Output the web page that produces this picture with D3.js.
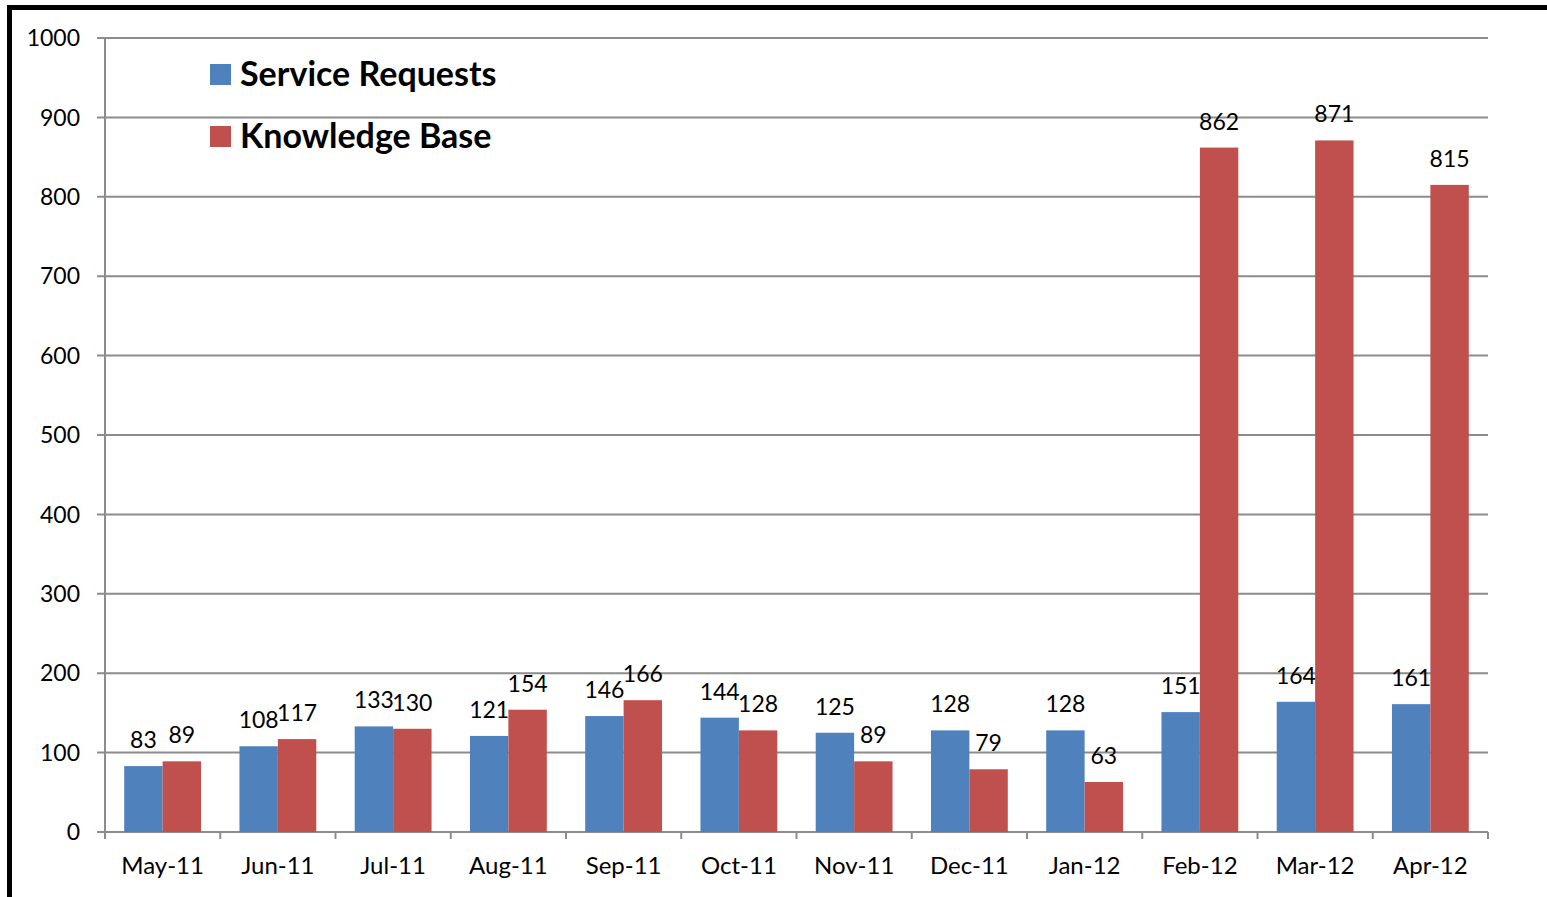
<!DOCTYPE html>
<html><head><meta charset="utf-8">
<script src="https://cdn.jsdelivr.net/npm/d3@7"></script>
<style>body{margin:0;background:#fff}svg{display:block}</style>
</head><body>
<svg id="c" width="1547" height="897"></svg>
<script>
const months = ["May-11","Jun-11","Jul-11","Aug-11","Sep-11","Oct-11","Nov-11","Dec-11","Jan-12","Feb-12","Mar-12","Apr-12"];
const serviceRequests = [83,108,133,121,146,144,125,128,128,151,164,161];
const knowledgeBase = [89,117,130,154,166,128,89,79,63,862,871,815];
const seriesNames = ["Service Requests","Knowledge Base"];
const seriesColors = ["#4F81BD","#C0504D"];
const yTicks = [0,100,200,300,400,500,600,700,800,900,1000];

(function(){
const svg = d3.select("#c");
const font = "Lato, 'Open Sans', sans-serif";
const pLeft = 105, pRight = 1488, pTop = 38, pBottom = 832;

// frame
svg.append("line").attr("x1",10).attr("x2",1547).attr("y1",7.5).attr("y2",7.5).attr("stroke","#000").attr("stroke-width",5);
svg.append("line").attr("x1",9.5).attr("x2",9.5).attr("y1",5).attr("y2",897).attr("stroke","#000").attr("stroke-width",5);

const x = d3.scaleBand().domain(months).range([pLeft,pRight]).paddingInner(0).paddingOuter(0);
const inner = d3.scaleBand().domain(seriesNames).range([0,x.bandwidth()]).paddingOuter(0.5).paddingInner(0);
const y = d3.scaleLinear().domain([0,1000]).range([pBottom,pTop]);

// gridlines
svg.append("g").selectAll("line").data(yTicks).join("line")
  .attr("x1",97).attr("x2",pRight).attr("y1",d=>y(d)).attr("y2",d=>y(d))
  .attr("stroke","#8c8c8c").attr("stroke-width",2);
// y axis line
svg.append("line").attr("x1",pLeft).attr("x2",pLeft).attr("y1",pTop).attr("y2",pBottom+6).attr("stroke","#8c8c8c").attr("stroke-width",2);
// x ticks
const xt = months.map(m=>x(m)).concat([pRight]);
svg.append("g").selectAll("line").data(xt).join("line")
  .attr("x1",d=>d).attr("x2",d=>d).attr("y1",pBottom).attr("y2",pBottom+7).attr("stroke","#8c8c8c").attr("stroke-width",2);

// y labels
svg.append("g").selectAll("text").data(yTicks).join("text")
  .attr("x",80).attr("y",d=>y(d)).attr("dy","0.36em").attr("text-anchor","end")
  .attr("font-family",font).attr("font-size",23).attr("fill","#000").text(d=>d);
// x labels
svg.append("g").selectAll("text").data(months).join("text")
  .attr("x",d=>x(d)+x.bandwidth()/2).attr("y",874).attr("text-anchor","middle")
  .attr("font-family",font).attr("font-size",24).attr("fill","#000").text(d=>d);

const data = [serviceRequests, knowledgeBase];
data.forEach((vals,si)=>{
  const g = svg.append("g");
  g.selectAll("rect").data(vals).join("rect")
    .attr("x",(d,i)=>x(months[i])+inner(seriesNames[si]))
    .attr("width",inner.bandwidth())
    .attr("y",d=>y(d)).attr("height",d=>pBottom-y(d))
    .attr("fill",seriesColors[si]);
  g.selectAll("text").data(vals).join("text")
    .attr("x",(d,i)=>x(months[i])+inner(seriesNames[si])+inner.bandwidth()/2)
    .attr("y",d=>y(d)-18).attr("text-anchor","middle")
    .attr("font-family",font).attr("font-size",23).attr("fill","#000").text(d=>d);
});

// legend
seriesNames.forEach((n,i)=>{
  const ly = 64 + i*62;
  svg.append("rect").attr("x",210).attr("y",ly).attr("width",21).attr("height",21).attr("fill",seriesColors[i]);
  svg.append("text").attr("x",240).attr("y",ly+22).attr("font-family",font).attr("font-weight","bold")
    .attr("font-size",34).attr("fill","#000").text(n);
});
})();
</script>
</body></html>
